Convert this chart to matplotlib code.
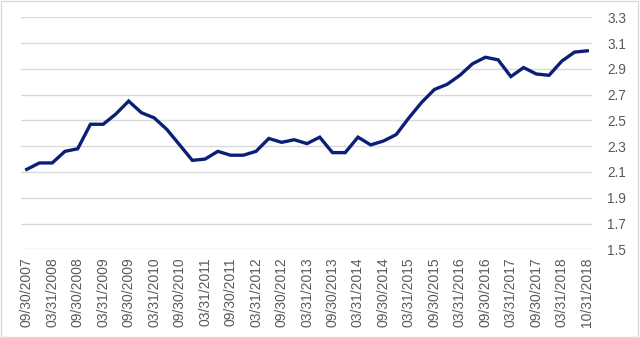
import matplotlib.pyplot as plt
from matplotlib.patches import Rectangle

# quarter-end dates, the last one is October
dates = []
for yr in range(2007, 2019):
    for md in ["03/31", "06/30", "09/30", "12/31"]:
        dates.append(md + "/" + str(yr))
dates = dates[dates.index("09/30/2007"):dates.index("06/30/2018") + 1] + ["10/31/2018"]

values = [2.12, 2.17, 2.17, 2.26, 2.28, 2.47, 2.47, 2.55, 2.65, 2.56,
          2.52, 2.43, 2.31, 2.19, 2.20, 2.26, 2.23, 2.23, 2.26, 2.36,
          2.33, 2.35, 2.32, 2.37, 2.25, 2.25, 2.37, 2.31, 2.34, 2.39,
          2.52, 2.64, 2.74, 2.78, 2.85, 2.94, 2.99, 2.97, 2.84, 2.91,
          2.86, 2.85, 2.96, 3.03, 3.04]

yticks = [1.5, 1.7, 1.9, 2.1, 2.3, 2.5, 2.7, 2.9, 3.1, 3.3]

plt.rcParams['font.family'] = ['Liberation Sans', 'DejaVu Sans']

fig = plt.figure(figsize=(6.4, 3.38), dpi=100)
ax = fig.add_axes([21/640, 1 - 249.3/338, (592 - 21)/640, (249.3 - 17.3)/338])

x = list(range(len(dates)))
ax.plot(x, values, color="#0c1f78", linewidth=2.4, solid_joinstyle="miter", zorder=3)

ax.set_ylim(1.5, 3.3)
ax.set_yticks(yticks)
ax.set_yticklabels([f"{v:.1f}" for v in yticks])
ax.yaxis.tick_right()
ax.set_xlim(-0.45, len(dates) - 1 + 0.37)
ax.set_xticks(x[::2])
ax.set_xticklabels(dates[::2], rotation=90)

ax.grid(axis="y", color="#d9d9d9", linewidth=1.0)
ax.set_axisbelow(True)
for s in ax.spines.values():
    s.set_visible(False)
ax.tick_params(axis="x", length=0, pad=6, labelsize=10, colors="#595959")
ax.tick_params(axis="y", length=0, pad=11, labelsize=9.8, colors="#595959")

fig.patches.append(Rectangle((0.002, 0.003), 0.995, 0.993, transform=fig.transFigure,
                             fill=False, edgecolor="#d9d9d9", linewidth=1.0))

fig.savefig("out.png", dpi=100)
